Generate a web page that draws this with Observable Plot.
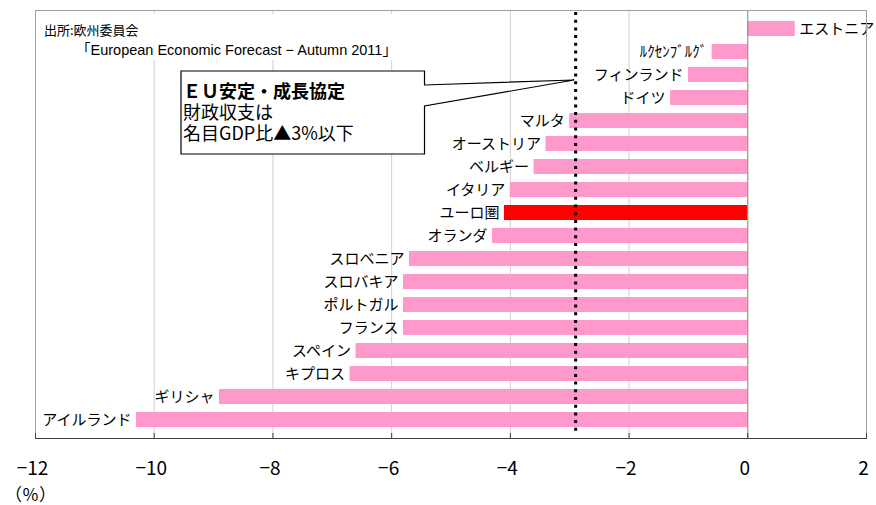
<!DOCTYPE html>
<html>
<head>
<meta charset="utf-8">
<script src="https://cdn.jsdelivr.net/npm/d3@7"></script>
<script src="https://cdn.jsdelivr.net/npm/@observablehq/plot@0.6"></script>
<style>
  body { margin: 0; background: #fff; }
  svg { display: block; }
</style>
</head>
<body>
<div id="chart"></div>
<script>
// General government balance, % of GDP (2011 forecast), euro-area members
const countries = ["エストニア", "ﾙｸｾﾝﾌﾞﾙｸﾞ", "フィンランド", "ドイツ", "マルタ", "オーストリア", "ベルギー", "イタリア", "ユーロ圏", "オランダ", "スロベニア", "スロバキア", "ポルトガル", "フランス", "スペイン", "キプロス", "ギリシャ", "アイルランド"];
const balance = [0.8, -0.6, -1.0, -1.3, -3.0, -3.4, -3.6, -4.0, -4.1, -4.3, -5.7, -5.8, -5.8, -5.8, -6.6, -6.7, -8.9, -10.3];
const highlight = "ユーロ圏";
const threshold = -2.9;
const xTicks = [-12, -10, -8, -6, -4, -2, 0, 2];
const sourceLines = ["出所:欧州委員会", "「European Economic Forecast − Autumn 2011」"];
const calloutTitle = "ＥＵ安定・成長協定";
const calloutLines = ["財政収支は", "名目GDP比▲3%以下"];
const unitLabel = "（％）";

const rows = countries.map((name, i) => ({name, value: balance[i]}));
const font = "'Noto Sans CJK JP', 'Noto Sans', sans-serif";
const latinFont = "'Liberation Sans', 'Noto Sans CJK JP', sans-serif";
const pink = "#ff99cc";
const red = "#ff0000";

const plot = Plot.plot({
  width: 876,
  height: 505,
  marginLeft: 35,
  marginRight: 10,
  marginTop: 10,
  marginBottom: 67,
  style: {fontFamily: font, background: "#fff", color: "#000"},
  x: {domain: [-12, 2], label: null},
  y: {domain: countries, paddingInner: 0.33, paddingOuter: 0.165, axis: null},
  marks: [
    Plot.gridX(xTicks.filter(v => v > -12 && v < 0), {stroke: "#d0d0d0", strokeOpacity: 1}),
    Plot.barX(rows, {x: "value", y: "name", fill: d => d.name === highlight ? red : pink}),
    Plot.ruleX([0], {stroke: "#808080"}),
    Plot.ruleX([threshold], {stroke: "#000", strokeWidth: 3, strokeDasharray: "3,4.7", insetTop: 2, insetBottom: 6}),
    Plot.text(rows.filter(d => d.value < 0), {x: "value", y: "name", text: "name", textAnchor: "end", dx: -5, fontSize: 15, fill: "#000"}),
    Plot.text(rows.filter(d => d.value >= 0), {x: "value", y: "name", text: "name", textAnchor: "start", dx: 4, fontSize: 15, fill: "#000"}),
    Plot.frame({stroke: "#a0a0a0"}),
    Plot.frame({anchor: "bottom", stroke: "#404040"}),
    Plot.ruleX(xTicks, {stroke: "#404040", insetTop: 423}),
    Plot.axisX(xTicks, {tickSize: 0, tickPadding: 23, fontSize: 19, dx: -3, label: null, tickFormat: d => String(d).replace("-", "−")})
  ]
});

document.getElementById("chart").append(plot);

// Annotations: source note and the stability-pact callout
const svg = d3.select(plot);
const x = plot.scale("x");

const src = svg.append("g").attr("font-family", font).attr("fill", "#000").attr("text-anchor", "start");
src.append("rect").attr("x", 36).attr("y", 14).attr("width", 372).attr("height", 46).attr("fill", "#fff");
src.append("text").attr("x", 44).attr("y", 35).attr("font-size", 13).text(sourceLines[0]);
src.append("text").attr("x", 76).attr("y", 55).attr("font-size", 14.5).attr("font-family", latinFont).text(sourceLines[1]);

const tipX = x.apply(threshold) - 1;
const bx0 = 181, bx1 = 424.5, by0 = 71, by1 = 154;
const callout = svg.append("g").attr("font-family", font).attr("fill", "#000").attr("text-anchor", "start");
callout.append("path")
  .attr("d", `M${bx1},85 V${by0} H${bx0} V${by1} H${bx1} V106 L${tipX},80 Z`)
  .attr("fill", "#fff").attr("stroke", "#000").attr("stroke-width", 1.2);
callout.append("text").attr("x", 183).attr("y", 98).attr("font-size", 18).attr("font-weight", "bold").text(calloutTitle);
calloutLines.forEach((t, i) => {
  callout.append("text").attr("x", 183).attr("y", 119 + i * 21).attr("font-size", 18).text(t);
});

svg.append("text").attr("x", 5).attr("y", 501).attr("text-anchor", "start")
  .attr("font-family", font).attr("font-size", 17).attr("fill", "#000").text(unitLabel);
</script>
</body>
</html>
